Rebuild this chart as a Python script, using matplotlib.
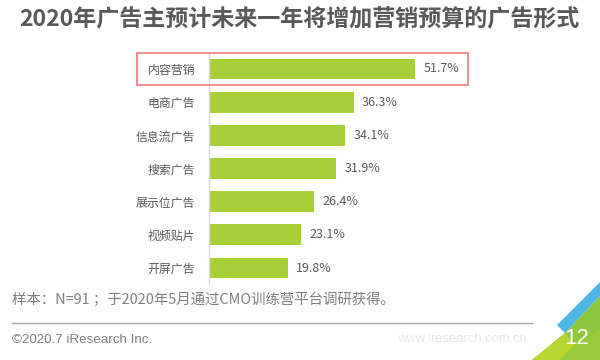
import matplotlib
matplotlib.use("Agg")
import matplotlib.pyplot as plt
from matplotlib.patches import Rectangle, Polygon
from matplotlib.transforms import blended_transform_factory

plt.rcParams['font.family'] = ['Noto Sans CJK SC', 'DejaVu Sans']

title = "2020年广告主预计未来一年将增加营销预算的广告形式"
categories = ["内容营销", "电商广告", "信息流广告", "搜索广告", "展示位广告", "视频贴片", "开屏广告"]
values = [51.7, 36.3, 34.1, 31.9, 26.4, 23.1, 19.8]
note = "样本：N=91 ；于2020年5月通过CMO训练营平台调研获得。"
copyright_text = "©2020.7 iResearch Inc."
site = "www.iresearch.com.cn"
page = "12"

W, H = 600, 360
fig = plt.figure(figsize=(6, 3.6), dpi=100)
fig.patch.set_facecolor("white")

def fx(px):
    return px / W

def fy(py):
    return 1 - py / H

# axes: left at x=209 px, y from 52.4 to 284.6 px
ax_left, ax_right = 209, 509
ax_top, ax_bot = 52.4, 284.6
ax = fig.add_axes([fx(ax_left), fy(ax_bot), fx(ax_right - ax_left), (ax_bot - ax_top) / H])
px_per_unit = (415 - 209) / 51.7
ax.set_xlim(0, (ax_right - ax_left) / px_per_unit)

gray = "#595959"
ypos = list(range(len(categories)))
ax.barh(ypos, values, height=0.63, color="#A9CF38", zorder=2)
ax.set_ylim(len(categories) - 0.5, -0.5)
ax.set_yticks(ypos)
ax.set_yticklabels(categories, fontsize=8.6, color=gray)
ax.tick_params(axis="y", length=0, pad=10)
ax.set_xticks([])
for s in ["top", "right", "bottom"]:
    ax.spines[s].set_visible(False)
ax.spines["left"].set_color("#d9d9d9")
ax.spines["left"].set_linewidth(1)
ax.patch.set_alpha(0)

for y, v in zip(ypos, values):
    ax.annotate(f"{v}%", xy=(v, y), xytext=(6, 0), textcoords="offset points",
                va="center", ha="left", fontsize=9, color=gray)

# highlight box around first category
tr = blended_transform_factory(fig.transFigure, ax.transData)
rect = Rectangle((fx(137), -0.49), fx(468) - fx(137), 0.98, transform=tr,
                 fill=False, edgecolor="#EF8F8F", linewidth=1.5, clip_on=False, zorder=3)
ax.add_patch(rect)

# title
fig.text(fx(299), fy(19), title, ha="center", va="center", fontsize=16.6,
         fontweight="bold", color=gray)

# footer
fig.text(fx(12), fy(299), note, ha="left", va="center", fontsize=10.4, color="#7f7f7f")
fig.add_artist(plt.Line2D([fx(12), fx(532)], [fy(323), fy(323)], color="#a6a6a6", linewidth=1))
fig.text(fx(12), fy(340), copyright_text, ha="left", va="center", fontsize=9.6,
         color="#7f7f7f", family=["Liberation Sans", "DejaVu Sans"])
fig.text(fx(462), fy(339), site, ha="center", va="center", fontsize=9.4,
         color="#e8e8e8", family=["Liberation Sans", "DejaVu Sans"])

# corner decoration
def poly(pts, color):
    fig.add_artist(Polygon([(fx(x), fy(y)) for x, y in pts], closed=True,
                           transform=fig.transFigure, facecolor=color, edgecolor="none"))

poly([(600, 282), (600, 296), (565, 333), (557, 325)], "#4DB6E6")
poly([(600, 296), (600, 360), (532, 360), (565, 333)], "#8DC63F")
poly([(532, 360), (565, 333), (575, 345), (560, 360)], "#B9D531")
poly([(560, 360), (575, 345), (600, 330), (600, 360)], "#9ACB3C")
fig.text(fx(577), fy(339), page, ha="center", va="center", fontsize=16, color="white",
         family=["Liberation Sans", "DejaVu Sans"])

fig.savefig("out.png", dpi=100, facecolor="white")
